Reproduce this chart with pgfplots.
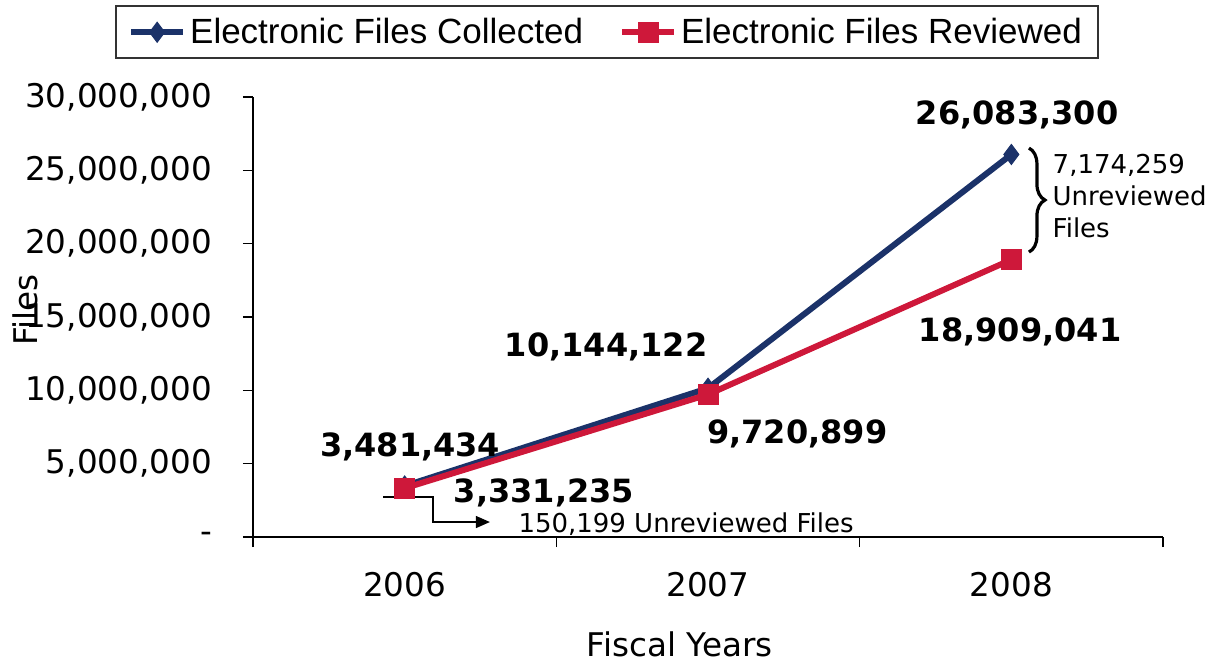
\documentclass[border=0pt]{standalone}
\usepackage{pgfplots}
\pgfplotsset{compat=1.18}
\usepackage{fontspec}
\setmainfont{DejaVu Sans}
\newfontfamily\legfont{Liberation Sans}
\usetikzlibrary{decorations.pathreplacing,arrows.meta}
\definecolor{navy}{RGB}{27,50,105}
\definecolor{crim}{RGB}{206,24,58}
\begin{document}
\begin{tikzpicture}
\begin{axis}[
  scale only axis,
  width=455pt, height=220pt,
  xmin=-0.5, xmax=2.5,
  ymin=0, ymax=30000000,
  axis x line*=bottom, axis y line*=left,
  axis line style={black, line width=0.7pt},
  xtick={-0.5,0.5,1.5,2.5}, xticklabels={},
  extra x ticks={0,1,2},
  extra x tick labels={2006,2007,2008},
  extra x tick style={major tick length=0pt},
  xtick align=outside, ytick align=outside,
  major tick length=5pt,
  tick style={black, line width=0.6pt},
  ytick={0,5000000,10000000,15000000,20000000,25000000,30000000},
  yticklabels={{-},{5,000,000},{10,000,000},{15,000,000},{20,000,000},{25,000,000},{30,000,000}},
  scaled y ticks=false,
  yticklabel style={font=\fontsize{16.3}{19}\selectfont, xshift=-12pt},
  xticklabel style={font=\fontsize{16.3}{19}\selectfont, yshift=-14pt},
  clip=false,
  legend columns=2,
  legend style={at={(axis description cs:0.389,1.209)}, anchor=north,
    draw=black!80, line width=1pt, font=\legfont\fontsize{17.5}{20}\selectfont,
    inner xsep=6pt, inner ysep=4pt,
    /tikz/every even column/.append style={column sep=16pt}},
  legend image code/.code={\draw[mark repeat=2,mark phase=2] plot coordinates {(0pt,0pt) (13pt,0pt) (26pt,0pt)};},
]
\addplot[navy, line width=3pt, mark=diamond*, mark size=5pt, mark options={solid, line width=0.5pt}]
  coordinates {(0,3481434) (1,10144122) (2,26083300)};
\addlegendentry{Electronic Files Collected}
\addplot[crim, line width=3pt, mark=square*, mark size=5pt, mark options={solid, line width=0.5pt}]
  coordinates {(0,3331235) (1,9720899) (2,18909041)};
\addlegendentry{Electronic Files Reviewed}

\node[font=\fontsize{16.3}{19}\selectfont] at (axis description cs:0.469,-0.245) {Fiscal Years};
\node[font=\fontsize{16.3}{19}\selectfont, rotate=90] at (axis description cs:-0.250,0.516) {Files};

\node[font=\bfseries\fontsize{16}{19}\selectfont] at (axis cs:0.018,6140000) {3,481,434};
\node[font=\bfseries\fontsize{16}{19}\selectfont] at (axis cs:0.459,3000000) {3,331,235};
\node[font=\bfseries\fontsize{16}{19}\selectfont] at (axis cs:0.664,12950000) {10,144,122};
\node[font=\bfseries\fontsize{16}{19}\selectfont] at (axis cs:1.294,7020000) {9,720,899};
\node[font=\bfseries\fontsize{16}{19}\selectfont] at (axis cs:2.019,28770000) {26,083,300};
\node[font=\bfseries\fontsize{16}{19}\selectfont] at (axis cs:2.029,13980000) {18,909,041};

\draw[black, line width=0.7pt, -{Triangle[length=7pt,width=6pt]}]
  (axis cs:-0.071,2727000) -- (axis cs:0.093,2727000) -- (axis cs:0.093,1023000) -- (axis cs:0.281,1023000);
\node[anchor=west, font=\fontsize{13}{15}\selectfont, inner sep=0pt] at (axis cs:0.374,886000) {150,199 Unreviewed Files};

\draw[black, line width=1.6pt, decorate, decoration={brace, amplitude=8pt}]
  (axis cs:2.058,26520000) -- (axis cs:2.058,19430000);
\node[anchor=west, align=left, font=\fontsize{13}{16}\selectfont, inner sep=0pt] at (axis cs:2.135,23250000) {7,174,259\\Unreviewed\\Files};

\coordinate (BL) at (axis description cs:-0.278,-0.284);
\coordinate (TR) at (axis description cs:1.0648,1.2205);
\end{axis}
\pgfresetboundingbox
\useasboundingbox (BL) rectangle (TR);
\end{tikzpicture}
\end{document}
